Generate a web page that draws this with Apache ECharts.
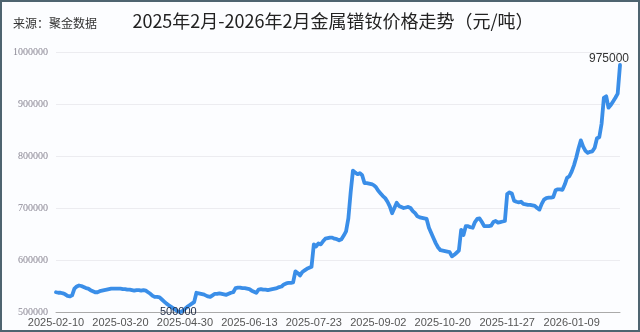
<!DOCTYPE html>
<html>
<head>
<meta charset="utf-8">
<script src="https://cdn.jsdelivr.net/npm/echarts@6/dist/echarts.min.js"></script>
<style>
html,body{margin:0;padding:0;background:#fff;}
#wrap{width:640px;height:332px;box-sizing:border-box;border:2px solid #4e6470;background:#fcfdff;position:relative;}
#chart{position:absolute;left:-2px;top:-2px;width:640px;height:332px;}
</style>
</head>
<body>
<div id="wrap"><div id="chart"></div></div>
<script>
const titleText = '2025年2月-2026年2月金属镨钕价格走势（元/吨）';
const sourceText = '来源：聚金数据';
const yTicks = [500000, 600000, 700000, 800000, 900000, 1000000];

const dates = [
'2025-02-10','2025-02-11','2025-02-12','2025-02-13','2025-02-14','2025-02-17','2025-02-18','2025-02-19','2025-02-20','2025-02-21',
'2025-02-24','2025-02-25','2025-02-26','2025-02-27','2025-02-28',
'2025-03-03','2025-03-04','2025-03-05','2025-03-06','2025-03-07','2025-03-10','2025-03-11','2025-03-12','2025-03-13','2025-03-14',
'2025-03-17','2025-03-18','2025-03-19','2025-03-20','2025-03-21','2025-03-24','2025-03-25','2025-03-26','2025-03-27','2025-03-28','2025-03-31',
'2025-04-01','2025-04-02','2025-04-03','2025-04-07','2025-04-08','2025-04-09','2025-04-10','2025-04-11','2025-04-14','2025-04-15',
'2025-04-16','2025-04-17','2025-04-18','2025-04-21','2025-04-22','2025-04-23','2025-04-24','2025-04-25','2025-04-28','2025-04-29','2025-04-30',
'2025-05-06','2025-05-07','2025-05-08','2025-05-09','2025-05-12','2025-05-13','2025-05-14','2025-05-15','2025-05-16','2025-05-19',
'2025-05-20','2025-05-21','2025-05-22','2025-05-23','2025-05-26','2025-05-27','2025-05-28','2025-05-29','2025-05-30',
'2025-06-03','2025-06-04','2025-06-05','2025-06-06','2025-06-09','2025-06-10','2025-06-11','2025-06-12','2025-06-13','2025-06-16',
'2025-06-17','2025-06-18','2025-06-19','2025-06-20','2025-06-23','2025-06-24','2025-06-25','2025-06-26','2025-06-27','2025-06-30',
'2025-07-01','2025-07-02','2025-07-03','2025-07-04','2025-07-07','2025-07-08','2025-07-09','2025-07-10','2025-07-11','2025-07-14',
'2025-07-15','2025-07-16','2025-07-17','2025-07-18','2025-07-21','2025-07-22','2025-07-23','2025-07-24','2025-07-25','2025-07-28',
'2025-07-29','2025-07-30','2025-07-31',
'2025-08-04','2025-08-05','2025-08-06','2025-08-07','2025-08-08','2025-08-11','2025-08-12','2025-08-13','2025-08-14','2025-08-15',
'2025-08-18','2025-08-19','2025-08-20','2025-08-21','2025-08-22','2025-08-25','2025-08-26','2025-08-27','2025-08-28','2025-08-29',
'2025-09-01','2025-09-02','2025-09-03','2025-09-04','2025-09-05','2025-09-08','2025-09-09','2025-09-10','2025-09-11','2025-09-12',
'2025-09-15','2025-09-16','2025-09-17','2025-09-18','2025-09-19','2025-09-22','2025-09-23','2025-09-24','2025-09-25','2025-09-26',
'2025-09-29','2025-09-30',
'2025-10-09','2025-10-10','2025-10-13','2025-10-14','2025-10-15','2025-10-16','2025-10-17','2025-10-20','2025-10-21','2025-10-22',
'2025-10-23','2025-10-24','2025-10-27','2025-10-28','2025-10-29','2025-10-30','2025-10-31',
'2025-11-03','2025-11-04','2025-11-05','2025-11-06','2025-11-07','2025-11-10','2025-11-11','2025-11-12','2025-11-13','2025-11-14',
'2025-11-17','2025-11-18','2025-11-19','2025-11-20','2025-11-21','2025-11-24','2025-11-25','2025-11-26','2025-11-27','2025-11-28',
'2025-12-01','2025-12-02','2025-12-03','2025-12-04','2025-12-05','2025-12-08','2025-12-09','2025-12-10','2025-12-11','2025-12-12',
'2025-12-15','2025-12-16','2025-12-17','2025-12-18','2025-12-19','2025-12-22','2025-12-23','2025-12-24','2025-12-26','2025-12-29',
'2025-12-30','2025-12-31',
'2026-01-05','2026-01-06','2026-01-07','2026-01-08','2026-01-09','2026-01-12','2026-01-13','2026-01-14','2026-01-15','2026-01-16',
'2026-01-19','2026-01-20','2026-01-21','2026-01-22','2026-01-23','2026-01-26','2026-01-27','2026-01-28','2026-01-29','2026-01-30',
'2026-02-02','2026-02-03','2026-02-04','2026-02-05','2026-02-06','2026-02-09'
];

const prices = [
538000,537000,537000,536000,534000,531000,530000,532000,545000,549000,
551000,550000,548000,546000,545000,542000,540000,538000,538000,540000,
541000,542000,543000,544000,545000,545000,545000,545000,545000,544000,
544000,543000,543000,542000,541000,542000,542000,541000,542000,541000,
538000,535000,531000,529000,529000,528000,524000,520000,516000,513000,
510000,507000,504000,501000,500000,502000,506000,510000,513000,516000,
519000,537000,536000,535000,534000,532000,530000,529000,532000,535000,
535000,536000,535000,534000,533000,535000,537000,538000,546000,547000,
547000,546000,546000,545000,544000,541000,539000,537000,543000,544000,
543000,543000,542000,543000,544000,545000,546000,548000,549000,553000,
555000,556000,556000,557000,578000,575000,570000,577000,580000,583000,
585000,587000,630000,626000,632000,630000,636000,641000,642000,643000,
643000,641000,640000,638000,640000,647000,655000,680000,730000,772000,
768000,765000,767000,763000,748000,748000,747000,746000,744000,740000,
733000,728000,723000,719000,712000,703000,690000,700000,710000,704000,
702000,700000,701000,702000,700000,694000,690000,684000,682000,681000,
680000,679000,662000,652000,642000,632000,624000,619000,618000,617000,
616000,615000,607000,610000,614000,618000,658000,648000,665000,665000,
663000,662000,673000,679000,680000,673000,665000,665000,665000,666000,
673000,675000,672000,673000,674000,675000,727000,730000,728000,714000,
712000,711000,712000,708000,707000,706000,706000,705000,704000,700000,
697000,708000,716000,719000,720000,720000,721000,734000,736000,736000,
735000,745000,758000,761000,770000,782000,797000,815000,830000,818000,
810000,806000,808000,809000,816000,834000,836000,862000,912000,915000,
893000,898000,905000,912000,920000,975000
];

const chart = echarts.init(document.getElementById('chart'), null, {renderer: 'canvas'});
chart.setOption({
  backgroundColor: 'transparent',
  animation: false,
  title: [{
    text: titleText,
    left: 328, top: 7, textAlign: 'center',
    textStyle: {fontSize: 18, fontWeight: 'normal', color: '#222', fontFamily: 'Noto Sans CJK SC'}
  }, {
    text: sourceText,
    left: 8, top: 12,
    textStyle: {fontSize: 12, fontWeight: 'normal', color: '#333', fontFamily: 'Noto Sans CJK SC'}
  }],
  grid: {left: 56, right: 20, top: 52, bottom: 20, containLabel: false},
  xAxis: {
    type: 'category',
    data: dates,
    boundaryGap: false,
    axisLine: {lineStyle: {color: '#aaa', width: 1}},
    axisTick: {show: false},
    axisLabel: {interval: 27, color: '#555', fontSize: 11, margin: 5, fontFamily: 'Liberation Sans'},
    splitLine: {show: false}
  },
  yAxis: {
    type: 'value',
    min: yTicks[0], max: yTicks[yTicks.length - 1], interval: 100000,
    axisLine: {show: false},
    axisTick: {show: false},
    axisLabel: {color: '#8a8794', fontSize: 10, margin: 8, fontFamily: 'Liberation Serif',
      formatter: function (v) { return String(v); }},
    splitLine: {lineStyle: {color: '#ececf0', width: 1}}
  },
  series: [{
    type: 'line',
    data: prices,
    showSymbol: false,
    symbol: 'none',
    lineStyle: {color: '#3a8ee8', width: 3.8, cap: 'round', join: 'round'},
    itemStyle: {color: '#3a8ee8'},
    markPoint: {
      symbol: 'circle',
      symbolSize: 1,
      itemStyle: {color: 'rgba(0,0,0,0)'},
      data: [
        {type: 'max', label: {show: true, position: 'inside', offset: [-11, -6], fontSize: 12, color: '#333', fontFamily: 'Liberation Sans'}},
        {type: 'min', label: {show: true, position: 'inside', offset: [-2, 0], fontSize: 11, color: '#1e2a44', fontFamily: 'Liberation Sans'}}
      ]
    }
  }]
});
</script>
</body>
</html>
